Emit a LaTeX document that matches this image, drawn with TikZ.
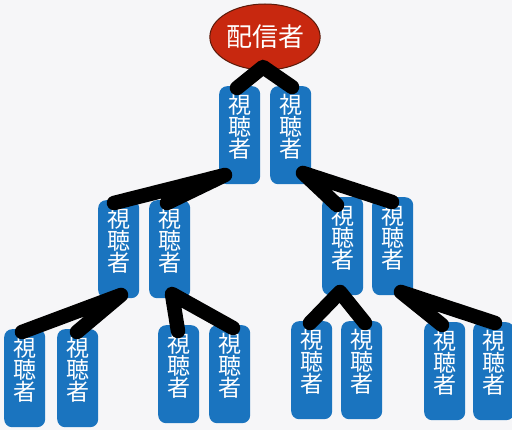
\documentclass[tikz,border=0pt]{standalone}
\usepackage{fontspec}
\usetikzlibrary{shapes.geometric}
\newfontfamily\cjk{Noto Sans CJK JP}
\definecolor{boxblue}{HTML}{1A74BF}
\definecolor{redfill}{HTML}{C8280F}
\definecolor{redline}{HTML}{5A1A0A}
\definecolor{bg}{HTML}{F6F6F8}
\begin{document}
\begin{tikzpicture}[x=1pt,y=-1pt,
  viewer/.style={fill=boxblue, rounded corners=8pt, minimum width=41pt, minimum height=98pt, inner sep=0pt, anchor=north west},
  lbl/.style={text=white, font=\cjk\fontsize{23}{22}\selectfont, align=center, inner sep=0pt, anchor=north},
  conn/.style={line width=14.5pt, line cap=round, line join=round, black}]
\fill[bg] (0,0) rectangle (512,430);
\useasboundingbox (0,0) rectangle (512,430);
% sender
\node[ellipse, draw=redline, line width=1pt, fill=redfill, minimum width=92pt, minimum height=66pt, inner sep=0pt,
  text=white, font=\cjk\fontsize{26}{26}\selectfont] (s) at (265,37) {配信者};
% viewer boxes
\foreach \n/\x/\y in {a/219/86, b/270/86,
   c/98/200, d/149/200, e/322/197, f/372/197,
   g/4/329, h/57/329, i/158/325, j/209/325, k/291/321, l/341/321, m/424/322, n/473/322}{
  \node[viewer] (\n) at (\x,\y) {};
  \node[lbl] (\n t) at ([yshift=-8pt]\n.north) {視\\聴\\者};
}
% connector points
\coordinate (sA) at (263,67);
\coordinate (a1) at (237,88);  \coordinate (b1) at (292,87);
\coordinate (aA) at (225,175);
\coordinate (c1) at (114,203); \coordinate (d1) at (167,203);
\coordinate (bA) at (303,173);
\coordinate (e1) at (337,205); \coordinate (f1) at (392,202);
\coordinate (cA) at (121,295);
\coordinate (g1) at (22,332);  \coordinate (h1) at (77,332);
\coordinate (dA) at (172,294);
\coordinate (i1) at (178,331); \coordinate (j1) at (233,328);
\coordinate (eA) at (340,292);
\coordinate (k1) at (310,323); \coordinate (l1) at (365,323);
\coordinate (fA) at (401,292);
\coordinate (m1) at (442,325); \coordinate (n1) at (495,323);
\draw[conn] (a1) -- (sA) -- (b1);
\draw[conn] (c1) -- (aA) -- (d1);
\draw[conn] (e1) -- (bA) -- (f1);
\draw[conn] (g1) -- (cA) -- (h1);
\draw[conn] (i1) -- (dA) -- (j1);
\draw[conn] (k1) -- (eA) -- (l1);
\draw[conn] (m1) -- (fA) -- (n1);
\end{tikzpicture}
\end{document}
